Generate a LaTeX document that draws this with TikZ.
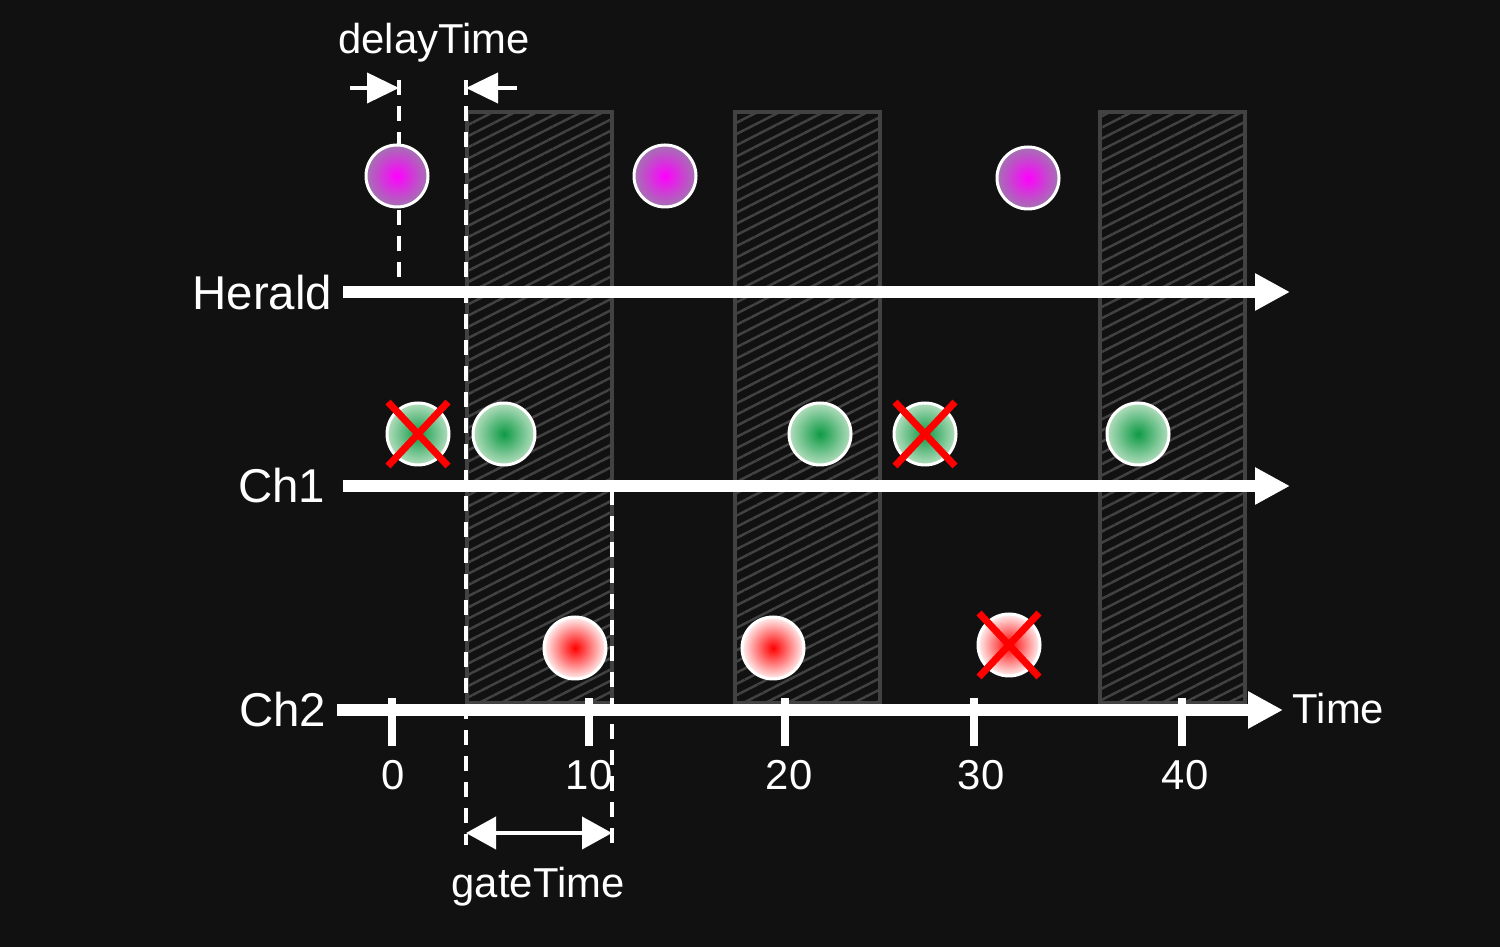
\documentclass[tikz,border=0pt]{standalone}
\usepackage{fontspec}
\setmainfont{Liberation Sans}
\usetikzlibrary{arrows.meta,patterns.meta}

\definecolor{bg}{HTML}{111111}
\definecolor{gatefill}{HTML}{424242}
\definecolor{heraldin}{HTML}{FF00FF}
\definecolor{heraldout}{HTML}{A274B0}
\definecolor{chonein}{HTML}{0E9A45}
\definecolor{choneout}{HTML}{B4DEBE}
\definecolor{chtwoin}{HTML}{FF0000}
\definecolor{chtwoout}{HTML}{FFF2F2}

\newcommand\axisfont{\fontsize{13.5pt}{15pt}\selectfont}
\newcommand\notefont{\fontsize{11.9pt}{13pt}\selectfont}

\tikzset{
  timeline/.style={white, line width=1.2mm, -{Triangle[length=3.5mm,width=3.5mm]}},
  tickline/.style={white, line width=0.8mm},
  gatebox/.style={draw=gatefill, line width=0.45mm, pattern={Lines[angle=27,distance=1mm,line width=0.25mm]}, pattern color=gatefill},
  guide/.style={white, line width=0.4mm, dash pattern=on 1.5mm off 1.1mm},
  gapline/.style={white, line width=0.4mm},
  ball/.style={circle, minimum size=6.2mm, inner sep=0pt, draw=white, line width=0.3mm, shade, shading=radial},
  heraldball/.style={ball, inner color=heraldin, outer color=heraldout},
  oneball/.style={ball, inner color=chonein, outer color=choneout},
  twoball/.style={ball, inner color=chtwoin, outer color=chtwoout},
  xmark/.style={red, line width=0.7mm},
  lbl/.style={text=white, font=\axisfont, inner sep=0pt},
  note/.style={text=white, font=\notefont, inner sep=0pt}
}

\begin{document}
\begin{tikzpicture}[x=0.1mm, y=-0.1mm]
\useasboundingbox[fill=bg] (0,0) rectangle (1500,947);

% gates
\foreach \xa/\xb in {467/612, 735/880, 1100/1245}
  \draw[gatebox] (\xa,112) rectangle (\xb,703);

% dashed guides
\coordinate (d0) at (399,80);
\coordinate (d1) at (399,292);
\coordinate (g0) at (466,80);
\coordinate (g1) at (466,845);
\coordinate (e0) at (612,490);
\coordinate (e1) at (612,845);
\draw[guide] (d0) -- (d1);
\draw[guide] (g0) -- (g1);
\draw[guide] (e0) -- (e1);

% time lines
\coordinate (h0) at (343,292);
\coordinate (h1) at (1290,292);
\coordinate (c0) at (343,486);
\coordinate (c1) at (1290,486);
\coordinate (t0) at (337,710);
\coordinate (t1) at (1283,710);
\draw[timeline] (h0) -- (h1);
\draw[timeline] (c0) -- (c1);
\draw[timeline] (t0) -- (t1);

\foreach \x/\lx/\t in {392/393/0, 589/589/10, 785/789/20, 974/981/30, 1182/1185/40}{
  \draw[tickline] (\x,698) -- (\x,746);
  \node[note, anchor=base] (n\t) at (\lx,790) {\t};
}

% delayTime
\coordinate (da) at (350,88);
\coordinate (db) at (399,88);
\coordinate (dc) at (517,88);
\coordinate (dd) at (466,88);
\draw[gapline, -{Triangle[length=3.2mm,width=3mm]}] (da) -- (db);
\draw[gapline, -{Triangle[length=3.2mm,width=3mm]}] (dc) -- (dd);
\draw[gapline] (399,80) -- (399,94);
\draw[gapline] (466,80) -- (466,94);

% gateTime
\coordinate (ga) at (466,833);
\coordinate (gb) at (612,833);
\draw[gapline, {Triangle[length=3mm,width=3.2mm]}-{Triangle[length=3mm,width=3.2mm]}] (ga) -- (gb);

% balls
\node[heraldball] (hb1) at (397,176) {};
\node[heraldball] (hb2) at (665,176) {};
\node[heraldball] (hb3) at (1028,178) {};

\node[oneball] (gb1) at (418,434) {};
\node[oneball] (gb2) at (504,434) {};
\node[oneball] (gb3) at (820,434) {};
\node[oneball] (gb4) at (925,434) {};
\node[oneball] (gb5) at (1138,434) {};

\node[twoball] (rb1) at (575,648) {};
\node[twoball] (rb2) at (773,648) {};
\node[twoball] (rb3) at (1009,645) {};

\foreach \b in {gb1, gb4, rb3}{
  \draw[xmark] ([shift={(-30,-32)}]\b.center) -- ([shift={(30,32)}]\b.center);
  \draw[xmark] ([shift={(30,-32)}]\b.center) -- ([shift={(-30,32)}]\b.center);
}

%Beschriftung
\node[lbl, anchor=base east] (herald) at (333,310) {Herald};
\node[lbl, anchor=base east] (chone) at (326,503) {Ch1};
\node[lbl, anchor=base east] (chtwo) at (327,727) {Ch2};
\node[note, anchor=base west] (time) at (1292,724) {Time};
\node[note, anchor=base] (delay) at (434,54) {delayTime};
\node[note, anchor=base] (gate) at (538,897) {gateTime};

\end{tikzpicture}
\end{document}
